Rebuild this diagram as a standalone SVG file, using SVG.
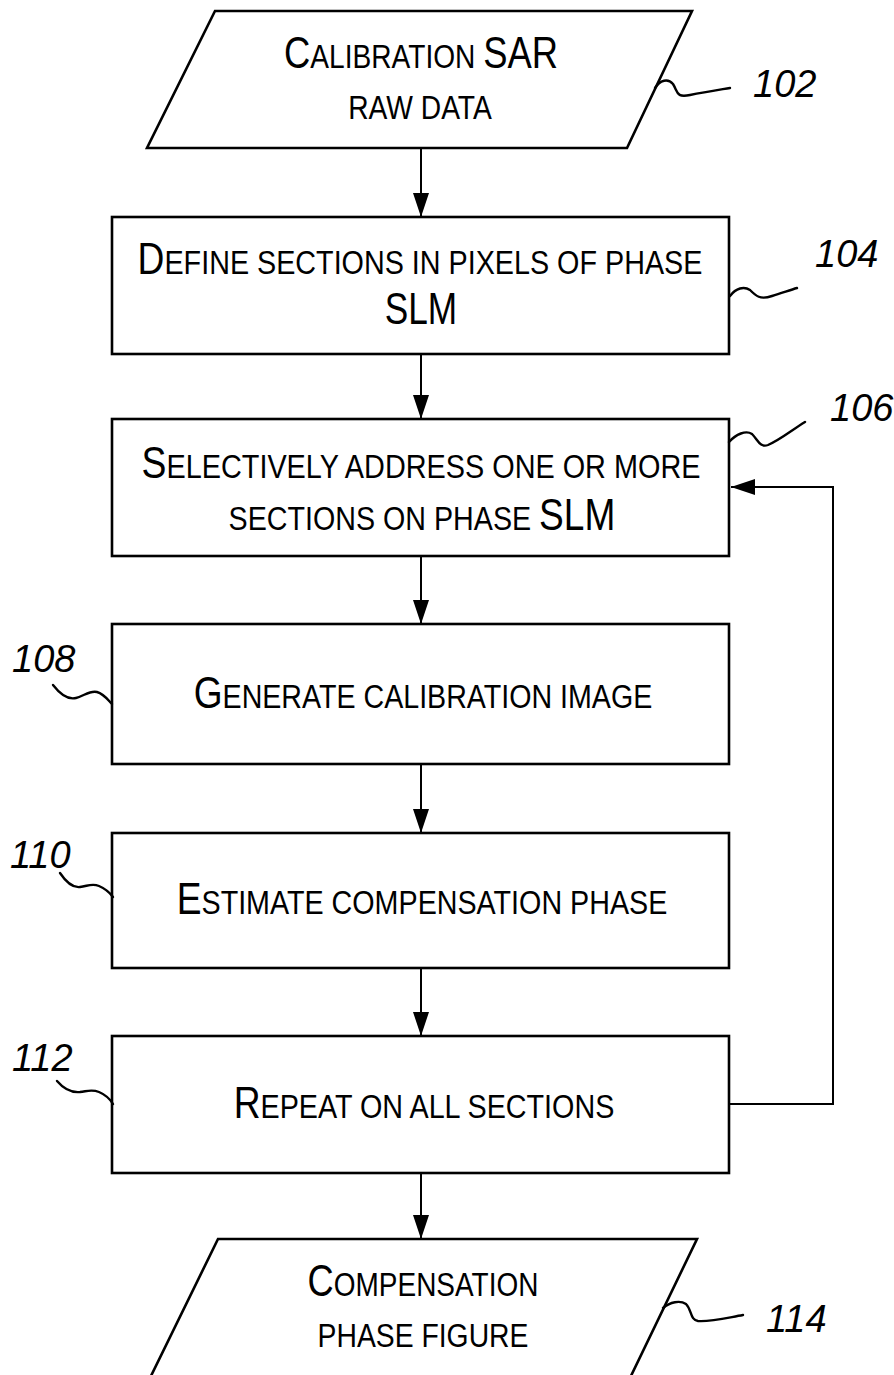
<svg xmlns="http://www.w3.org/2000/svg" width="894" height="1375" viewBox="0 0 894 1375">
<style>
.shape{fill:#fff;stroke:#000;stroke-width:2.6}
.lbl{font-family:"Liberation Sans",Arial,sans-serif;fill:#000;text-anchor:middle}
.b{font-size:44px}
.s{font-size:34px}
.num{font-family:"Liberation Sans",Arial,sans-serif;font-style:italic;font-size:38px;fill:#000}
.lead{fill:none;stroke:#000;stroke-width:2.4;stroke-linecap:round}
.conn{fill:none;stroke:#000;stroke-width:2}
</style>
<defs>
<marker id="ah" viewBox="0 0 24 16" refX="24" refY="8" markerWidth="24" markerHeight="16" orient="auto" markerUnits="userSpaceOnUse">
<path d="M0,0 L24,8 L0,16 z" fill="#000"/>
</marker>
</defs>
<rect width="894" height="1375" fill="#fff"/>

<g id="connectors">
<line class="conn" x1="421" y1="148" x2="421" y2="217" marker-end="url(#ah)"/>
<line class="conn" x1="421" y1="354" x2="421" y2="419" marker-end="url(#ah)"/>
<line class="conn" x1="421" y1="556" x2="421" y2="624" marker-end="url(#ah)"/>
<line class="conn" x1="421" y1="764" x2="421" y2="833" marker-end="url(#ah)"/>
<line class="conn" x1="421" y1="968" x2="421" y2="1036" marker-end="url(#ah)"/>
<line class="conn" x1="421" y1="1173" x2="421" y2="1239" marker-end="url(#ah)"/>
<path class="conn" d="M730,1104 H833 V487 H731" marker-end="url(#ah)"/>
</g>

<g id="n102">
<polygon class="shape" points="215,11 692,11 627,148 147,148"/>
<text class="lbl" transform="translate(421,68) scale(0.827,1)"><tspan class="b">C</tspan><tspan class="s">ALIBRATION </tspan><tspan class="b">SAR</tspan></text>
<text class="lbl s" transform="translate(420,119) scale(0.83,1)">RAW DATA</text>
<path class="lead" d="M655,88 C660,80 668,78 673,84 C678,92 676,98 690,95 C705,92 718,90 730,88"/>
<text class="num" x="753" y="97">102</text>
</g>

<g id="n104">
<rect class="shape" x="112" y="217" width="617" height="137"/>
<text class="lbl" transform="translate(420,274) scale(0.845,1)"><tspan class="b">D</tspan><tspan class="s">EFINE SECTIONS IN PIXELS OF PHASE</tspan></text>
<text class="lbl b" transform="translate(421,324) scale(0.8,1)">SLM</text>
<path class="lead" d="M730,296 C736,288 744,286 750,290 C756,296 760,300 772,296 C782,293 790,290 797,288"/>
<text class="num" x="815" y="267">104</text>
</g>

<g id="n106">
<rect class="shape" x="112" y="419" width="617" height="137"/>
<text class="lbl" transform="translate(421,478) scale(0.848,1)"><tspan class="b">S</tspan><tspan class="s">ELECTIVELY ADDRESS ONE OR MORE</tspan></text>
<text class="lbl" transform="translate(422,530) scale(0.843,1)"><tspan class="s">SECTIONS ON PHASE </tspan><tspan class="b">SLM</tspan></text>
<path class="lead" d="M729,442 C736,434 746,430 752,434 C758,440 760,448 768,445 C780,440 792,430 805,422"/>
<text class="num" x="830" y="421">106</text>
</g>

<g id="n108">
<rect class="shape" x="112" y="624" width="617" height="140"/>
<text class="lbl" transform="translate(423,708) scale(0.842,1)"><tspan class="b">G</tspan><tspan class="s">ENERATE CALIBRATION IMAGE</tspan></text>
<path class="lead" d="M53,685 C60,694 68,700 76,698 C84,696 90,690 97,692 C104,694 108,700 112,704"/>
<text class="num" x="12" y="672">108</text>
</g>

<g id="n110">
<rect class="shape" x="112" y="833" width="617" height="135"/>
<text class="lbl" transform="translate(422,914) scale(0.844,1)"><tspan class="b">E</tspan><tspan class="s">STIMATE COMPENSATION PHASE</tspan></text>
<path class="lead" d="M60,873 C66,882 72,888 80,887 C88,886 92,883 99,886 C106,889 110,893 113,897"/>
<text class="num" x="10" y="868">110</text>
</g>

<g id="n112">
<rect class="shape" x="112" y="1036" width="617" height="137"/>
<text class="lbl" transform="translate(424,1118) scale(0.845,1)"><tspan class="b">R</tspan><tspan class="s">EPEAT ON ALL SECTIONS</tspan></text>
<path class="lead" d="M57,1081 C63,1088 70,1093 80,1092 C88,1091 92,1089 99,1092 C106,1095 110,1099 113,1104"/>
<text class="num" x="12" y="1071">112</text>
</g>

<g id="n114">
<polygon class="shape" points="218,1239 697,1239 630,1378 150,1378"/>
<text class="lbl" transform="translate(423,1296) scale(0.823,1)"><tspan class="b">C</tspan><tspan class="s">OMPENSATION</tspan></text>
<text class="lbl s" transform="translate(423,1347) scale(0.833,1)">PHASE FIGURE</text>
<path class="lead" d="M663,1308 C670,1302 680,1300 686,1304 C692,1310 690,1320 698,1321 C710,1322 726,1318 743,1315"/>
<text class="num" x="766" y="1332">114</text>
</g>
</svg>
